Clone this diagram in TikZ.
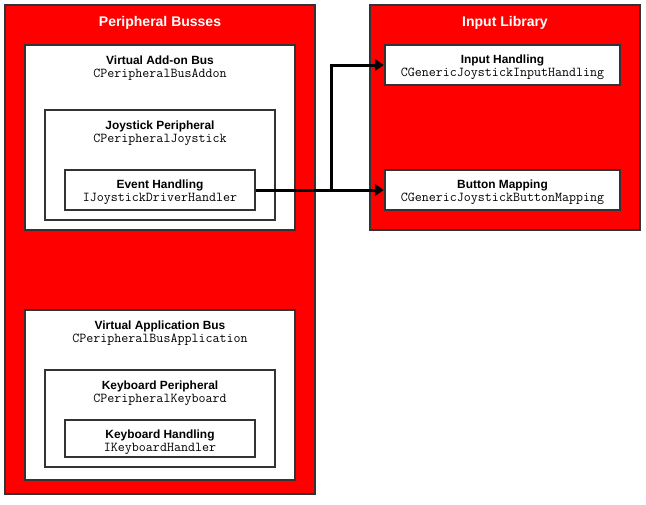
\documentclass[tikz,border=0pt]{standalone}
\usepackage{fontspec}
\setmainfont{Liberation Sans}
\usetikzlibrary{arrows.meta}
\definecolor{bordergray}{HTML}{333333}
\definecolor{busred}{HTML}{FF0000}
\begin{document}
\begin{tikzpicture}[x=1pt,y=-1pt,
  redbox/.style={draw=bordergray,line width=2.5pt,fill=busred,inner sep=0pt,rectangle},
  whitebox/.style={draw=bordergray,line width=2.5pt,fill=white,inner sep=0pt,rectangle},
  titletext/.style={anchor=base,inner sep=0pt,text=white,font=\fontsize{14}{16}\selectfont\bfseries},
  headtext/.style={anchor=base,inner sep=0pt,font=\fontsize{11.9}{14}\selectfont\bfseries},
  codetext/.style={anchor=base,inner sep=0pt,font=\fontsize{13.6}{15}\selectfont\ttfamily},
  conn/.style={draw=black,line width=3pt},
  arr/.style={conn,-{Triangle[length=9pt,width=12pt]}}
]
\useasboundingbox (0,0) rectangle (646,504);
% Peripheral Busses
\node[redbox,minimum width=310pt,minimum height=489pt] (pb) at (160,249.5) {};
\node[titletext] (pbt) at (160,26) {Peripheral Busses};
% Virtual Add-on Bus
\node[whitebox,minimum width=270pt,minimum height=185pt] (vab) at (160,137.5) {};
\node[headtext] (vabh) at (160,64) {Virtual Add-on Bus};
\node[codetext] (vabc) at (160,77) {CPeripheralBusAddon};
% Joystick Peripheral
\node[whitebox,minimum width=230pt,minimum height=110pt] (jp) at (160,165) {};
\node[headtext] (jph) at (160,129) {Joystick Peripheral};
\node[codetext] (jpc) at (160,142) {CPeripheralJoystick};
% Event Handling
\node[whitebox,minimum width=190pt,minimum height=40pt] (ev) at (160,190) {};
\node[headtext] (evh) at (160,188.5) {Event Handling};
\node[codetext] (evc) at (160,201.5) {IJoystickDriverHandler};
% Virtual Application Bus
\node[whitebox,minimum width=270pt,minimum height=170pt] (vapb) at (160,395) {};
\node[headtext] (vapbh) at (160,329) {Virtual Application Bus};
\node[codetext] (vapbc) at (160,342) {CPeripheralBusApplication};
% Keyboard Peripheral
\node[whitebox,minimum width=230pt,minimum height=97pt] (kp) at (160,418.5) {};
\node[headtext] (kph) at (160,389) {Keyboard Peripheral};
\node[codetext] (kpc) at (160,402) {CPeripheralKeyboard};
% Keyboard Handling
\node[whitebox,minimum width=190pt,minimum height=37pt] (kh) at (160,438.5) {};
\node[headtext] (khh) at (160,438.5) {Keyboard Handling};
\node[codetext] (khc) at (160,451.5) {IKeyboardHandler};
% Input Library
\node[redbox,minimum width=270pt,minimum height=225pt] (il) at (505,117.5) {};
\node[titletext] (ilt) at (505,26) {Input Library};
% Input Handling
\node[whitebox,minimum width=235pt,minimum height=40pt] (ih) at (502.5,65) {};
\node[headtext] (ihh) at (502.5,63.5) {Input Handling};
\node[codetext] (ihc) at (502.5,76.5) {CGenericJoystickInputHandling};
% Button Mapping
\node[whitebox,minimum width=235pt,minimum height=40pt] (bm) at (502.5,190) {};
\node[headtext] (bmh) at (502.5,188.5) {Button Mapping};
\node[codetext] (bmc) at (502.5,201.5) {CGenericJoystickButtonMapping};
% connectors
\coordinate (br) at (331,190);
\draw[arr] (ev.east) -- (bm.west);
\draw[arr] (br) |- (ih.west);
\end{tikzpicture}
\end{document}
